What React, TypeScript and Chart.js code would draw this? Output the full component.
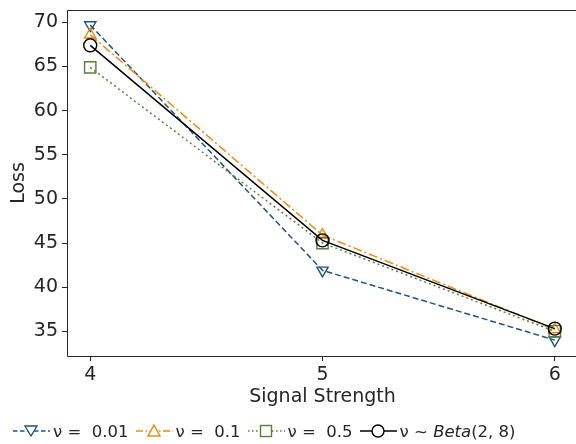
import React, { useEffect, useRef } from "react";
import { Chart, registerables } from "chart.js";

Chart.register(...registerables);

const signalStrength = [4, 5, 6];
const lossNu001 = [69.7, 41.9, 34.0];
const lossNu01 = [68.6, 45.9, 35.2];
const lossNu05 = [64.9, 45.0, 35.0];
const lossBeta = [67.4, 45.3, 35.3];
const yTicks = [35, 40, 45, 50, 55, 60, 65, 70];
const xTicks = [4, 5, 6];

const BLUE = "#24527f";
const ORANGE = "#ee8a10";
const GREEN = "#5b7f3a";
const BLACK = "#000000";
const TEXT = "#262626";
const FONT = "'DejaVu Sans', sans-serif";

const pts = (ys: number[]) => signalStrength.map((x, i) => ({ x, y: ys[i] }));

const frame = {
  id: "frame",
  afterDraw(chart: any) {
    const { ctx, chartArea } = chart;
    const l = Math.round(chartArea.left) + 0.5;
    const t = Math.round(chartArea.top) + 0.5;
    const b = Math.round(chartArea.bottom) + 0.5;
    const r = chartArea.right + 1;
    ctx.save();
    ctx.strokeStyle = TEXT;
    ctx.lineWidth = 1;
    ctx.beginPath();
    ctx.moveTo(r, t);
    ctx.lineTo(l, t);
    ctx.lineTo(l, b);
    ctx.lineTo(r, b);
    ctx.stroke();
    ctx.restore();
  },
};

function Icon({ color, dash, marker }: { color: string; dash: string; marker: string }) {
  let m: any = null;
  if (marker === "down")
    m = <polygon points="12,6 24,6 18,16" fill="white" stroke={color} strokeWidth={1.4} />;
  else if (marker === "up")
    m = <polygon points="12,16 24,16 18,5" fill="white" stroke={color} strokeWidth={1.4} />;
  else if (marker === "square")
    m = <rect x={12.5} y={5.5} width={11} height={11} fill="white" stroke={color} strokeWidth={1.4} />;
  else m = <circle cx={18} cy={11} r={6} fill="white" stroke={color} strokeWidth={1.4} />;
  return (
    <svg width={37} height={22} style={{ display: "block" }}>
      <line x1={0} y1={11} x2={37} y2={11} stroke={color} strokeWidth={1.5} strokeDasharray={dash} />
      {m}
    </svg>
  );
}

export default function App() {
  const ref = useRef<HTMLCanvasElement>(null);
  useEffect(() => {
    if (!ref.current) return;
    const common = { borderWidth: 1.5, pointRadius: 6.5, pointBorderWidth: 1.4, pointBackgroundColor: "rgba(0,0,0,0)", fill: false, tension: 0 };
    const chart = new Chart(ref.current, {
      type: "line",
      data: {
        datasets: [
          { ...common, label: "ν = 0.01", data: pts(lossNu001), borderColor: BLUE, pointBorderColor: BLUE, borderDash: [6, 3], pointStyle: "triangle", pointRotation: 180, order: 3 },
          { ...common, label: "ν = 0.1", data: pts(lossNu01), borderColor: ORANGE, pointBorderColor: ORANGE, borderDash: [9, 3, 2, 3], pointStyle: "triangle", order: 2 },
          { ...common, label: "ν = 0.5", data: pts(lossNu05), borderColor: GREEN, pointBorderColor: GREEN, borderDash: [2, 3], pointStyle: "rect", pointRadius: 8, order: 1 },
          { ...common, label: "ν ~ Beta(2, 8)", data: pts(lossBeta), borderColor: BLACK, pointBorderColor: BLACK, pointStyle: "circle", order: 0 },
        ] as any,
      },
      options: {
        responsive: false,
        animation: false,
        layout: { padding: { top: 10, right: 22, left: 0, bottom: 36 } },
        plugins: { legend: { display: false }, tooltip: { enabled: false } },
        scales: {
          x: {
            type: "linear",
            min: 3.9,
            max: 6.1,
            afterBuildTicks: (s: any) => { s.ticks = xTicks.map((v) => ({ value: v })); },
            afterFit: (s: any) => { s.height = 52; s.paddingLeft = 0; s.paddingRight = 0; },
            border: { display: false },
            grid: { drawOnChartArea: false, tickLength: 5, color: TEXT },
            ticks: { font: { family: FONT, size: 19 }, color: TEXT, padding: 3, callback: (v: any) => String(v) },
            title: { display: true, text: "Signal Strength", font: { family: FONT, size: 19 }, color: TEXT, padding: 0 },
          },
          y: {
            min: 32.2,
            max: 71.4,
            afterBuildTicks: (s: any) => { s.ticks = yTicks.map((v) => ({ value: v })); },
            afterFit: (s: any) => { s.width = 67; s.paddingTop = 0; s.paddingBottom = 0; },
            border: { display: false },
            grid: { drawOnChartArea: false, tickLength: 5, color: TEXT },
            ticks: { font: { family: FONT, size: 19 }, color: TEXT, padding: 4, callback: (v: any) => String(v) },
            title: { display: true, text: "Loss", font: { family: FONT, size: 19 }, color: TEXT, padding: { top: 8, bottom: 0 } },
          },
        },
      },
      plugins: [frame],
    } as any);
    return () => chart.destroy();
  }, []);

  const legendItems = [
    { color: BLUE, dash: "4.5,2.5", marker: "down", text: <span>ν =  0.01</span> },
    { color: ORANGE, dash: "7,2.5,1.5,2.5", marker: "up", text: <span>ν =  0.1</span> },
    { color: GREEN, dash: "1.5,2.5", marker: "square", text: <span>ν =  0.5</span> },
    { color: BLACK, dash: "", marker: "circle", text: <span>ν ~ <i>Beta</i>(2, 8)</span> },
  ];

  return (
    <div style={{ position: "fixed", left: 0, top: 0, width: 576, height: 444, overflow: "hidden", background: "white" }}>
      <canvas ref={ref} width={600} height={444} style={{ position: "absolute", left: 0, top: 0, width: 600, height: 444 }} />
      <div style={{ position: "absolute", left: 13, top: 420, display: "flex", alignItems: "center", fontFamily: FONT, fontSize: 16.5, color: TEXT, whiteSpace: "pre" }}>
        {legendItems.map((it, i) => (
          <div key={i} style={{ display: "flex", alignItems: "center", marginRight: i < 3 ? 7 : 0 }}>
            <Icon color={it.color} dash={it.dash} marker={it.marker} />
            <div style={{ marginLeft: 3 }}>{it.text}</div>
          </div>
        ))}
      </div>
    </div>
  );
}
